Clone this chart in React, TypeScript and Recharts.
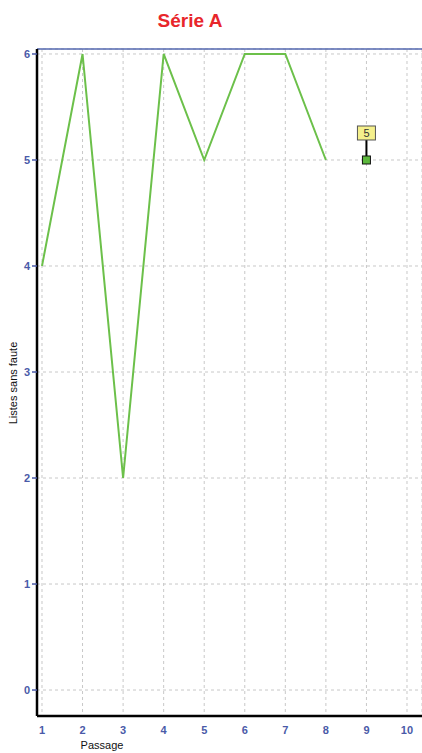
import {
  CartesianGrid,
  Line,
  LineChart,
  ReferenceLine,
  XAxis,
  YAxis,
} from "recharts";

const passages = [1, 2, 3, 4, 5, 6, 7, 8];
const scores = [4, 6, 2, 6, 5, 6, 6, 5];
const markedPassages = [9];
const markedScores = [5];
const xTicks = [1, 2, 3, 4, 5, 6, 7, 8, 9, 10];
const yTicks = [0, 1, 2, 3, 4, 5, 6];

const serie = passages.map((p, i) => ({ passage: p, score: scores[i] }));
const marked = markedPassages.map((p, i) => ({ passage: p, score: markedScores[i] }));

const tickStyle = { fill: "#4a5aa8", fontSize: 11, fontWeight: 600, fontFamily: "Liberation Sans, Arial, sans-serif" };

// square marker with its value in a yellow tag above it
const MarkedDot = (props: any) => {
  const { cx, cy, payload } = props;
  if (cx == null || cy == null) return null;
  return (
    <g>
      <line x1={cx} y1={cy} x2={cx} y2={cy - 20} stroke="#000" strokeWidth={2} />
      <rect x={cx - 9} y={cy - 34} width={18} height={14} fill="#f5f08c" stroke="#555" strokeWidth={1} />
      <text x={cx} y={cy - 23} textAnchor="middle" fontSize={11} fill="#333" fontFamily="Liberation Sans, Arial, sans-serif">
        {payload.score}
      </text>
      <rect x={cx - 4} y={cy - 4} width={8} height={8} fill="#5cb83c" stroke="#111" strokeWidth={1} />
    </g>
  );
};

const App = () => {
  return (
    <div style={{ position: "absolute", left: 0, top: 0, width: 422, height: 753, background: "#fff" }}>
      <div
        style={{
          position: "absolute",
          left: 0,
          top: 10,
          width: 380,
          textAlign: "center",
          color: "#e8262b",
          fontWeight: 700,
          fontSize: 19,
          fontFamily: "Liberation Sans, Arial, sans-serif",
        }}
      >
        Série A
      </div>
      <LineChart width={422} height={753} margin={{ top: 49, right: 0, bottom: 0, left: 0 }}>
        <CartesianGrid stroke="#c8c8c8" strokeDasharray="3 3" />
        <XAxis
          dataKey="passage"
          type="number"
          domain={[0.877, 10.37]}
          ticks={xTicks}
          allowDataOverflow
          height={37}
          tick={tickStyle}
          tickLine={false}
          tickSize={8}
          tickMargin={2}
          axisLine={{ stroke: "#000", strokeWidth: 2.5 }}
          label={{
            content: (p: any) => (
              <text x={p.viewBox.x + 65} y={p.viewBox.y + 33} textAnchor="middle" fontSize={11} fill="#111" fontFamily="Liberation Sans, Arial, sans-serif">
                Passage
              </text>
            ),
          }}
        />
        <YAxis
          type="number"
          domain={[-0.245, 6.047]}
          ticks={yTicks}
          allowDataOverflow
          width={37}
          tick={tickStyle}
          tickSize={5}
          tickMargin={2}
          tickLine={{ stroke: "#4a5aa8", strokeWidth: 1.5 }}
          axisLine={{ stroke: "#000", strokeWidth: 2.5 }}
          label={{
            content: () => (
              <text x={17} y={383} textAnchor="middle" transform="rotate(-90 17 383)" fontSize={11} fill="#111" fontFamily="Liberation Sans, Arial, sans-serif">
                Listes sans faute
              </text>
            ),
          }}
        />
        <ReferenceLine y={6.047} stroke="#5468b0" strokeWidth={1.5} />
        <Line
          data={serie}
          dataKey="score"
          stroke="#6cc04a"
          strokeWidth={2}
          dot={false}
          isAnimationActive={false}
        />
        <Line
          data={marked}
          dataKey="score"
          stroke="none"
          dot={<MarkedDot />}
          isAnimationActive={false}
        />
      </LineChart>
    </div>
  );
};

export default App;
